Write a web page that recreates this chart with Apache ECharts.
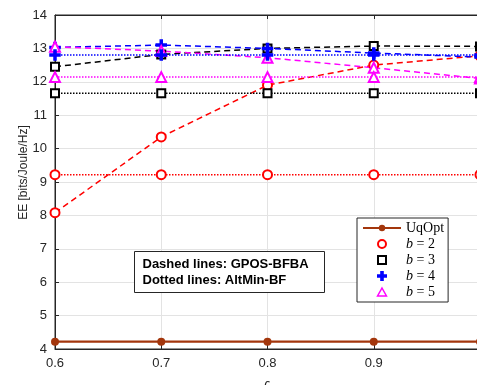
<!DOCTYPE html>
<html>
<head>
<meta charset="utf-8">
<script src="https://cdn.jsdelivr.net/npm/echarts@6/dist/echarts.min.js"></script>
<style>
  html, body { margin: 0; padding: 0; background: #fff; }
  #chart { width: 477px; height: 385px; }
</style>
</head>
<body>
<div id="chart"></div>
<script>
// x values (varsigma)
const xVals = [0.6, 0.7, 0.8, 0.9, 1.0];

// benchmark
const uqOpt = [4.22, 4.22, 4.22, 4.22, 4.22];

// dashed lines: GPOS-BFBA
const gposB2 = [8.08, 10.35, 11.9, 12.5, 12.78];
const gposB3 = [12.45, 12.82, 13.0, 13.07, 13.06];
const gposB4 = [13.03, 13.1, 13.0, 12.86, 12.74];
const gposB5 = [13.05, 12.92, 12.72, 12.42, 12.1];

// dotted lines: AltMin-BF
const altB2 = [9.22, 9.22, 9.22, 9.22, 9.22];
const altB3 = [11.66, 11.66, 11.66, 11.66, 11.66];
const altB4 = [12.8, 12.8, 12.8, 12.8, 12.8];
const altB5 = [12.14, 12.14, 12.14, 12.14, 12.14];

const legendNames = ['UqOpt', 'b = 2', 'b = 3', 'b = 4', 'b = 5'];

const plusPath = 'path://M4,0H6V4H10V6H6V10H4V6H0V4H4Z';
const squarePath = 'path://M0,0H10V10H0Z';
const trianglePath = 'path://M5,0L10,9H0Z';
const axisColor = '#262626';

function pairs(ys) {
  return xVals.map((x, i) => [x, ys[i]]);
}

function bSeries(name, ys, color, symbol, size, dash) {
  return {
    name: name,
    type: 'line',
    data: pairs(ys),
    symbol: symbol,
    symbolSize: size,
    showSymbol: true,
    lineStyle: { color: color, width: 1.5, type: dash },
    itemStyle: { color: color, borderColor: color, borderWidth: 1.5 },
    emphasis: { disabled: true }
  };
}

const chart = echarts.init(document.getElementById('chart'));

const option = {
  animation: false,
  grid: {
    left: 55, right: -3, top: 15, bottom: 36,
    outerBoundsMode: 'none', containLabel: false,
    show: true, borderColor: axisColor, borderWidth: 1
  },
  xAxis: [{
    type: 'value',
    min: 0.6, max: 1.0, interval: 0.1,
    name: 'ς',
    nameLocation: 'middle',
    nameGap: 29,
    nameMoveOverlap: false,
    nameTextStyle: { color: axisColor, fontSize: 13, fontFamily: 'Liberation Sans' },
    axisLine: { show: true, lineStyle: { color: axisColor } },
    axisTick: { inside: true, length: 4, lineStyle: { color: axisColor } },
    axisLabel: { color: axisColor, fontSize: 13, fontFamily: 'Liberation Sans', margin: 8,
      formatter: v => (Math.abs(v - 1) < 1e-9 ? '1' : v.toFixed(1)) },
    splitLine: { show: true, lineStyle: { color: '#e3e3e3' } }
  }, {
    type: 'value', position: 'top',
    min: 0.6, max: 1.0, interval: 0.1,
    axisLine: { show: true, lineStyle: { color: axisColor } },
    axisTick: { inside: true, length: 4, lineStyle: { color: axisColor } },
    axisLabel: { show: false },
    splitLine: { show: false }
  }],
  yAxis: {
    type: 'value',
    min: 4, max: 14, interval: 1,
    name: 'EE [bits/Joule/Hz]',
    nameLocation: 'middle',
    nameGap: 25,
    nameMoveOverlap: false,
    nameTextStyle: { color: axisColor, fontSize: 12, fontFamily: 'Liberation Sans', padding: [0, 0, 0, 19] },
    axisLine: { show: true, lineStyle: { color: axisColor } },
    axisTick: { inside: true, length: 4, lineStyle: { color: axisColor } },
    axisLabel: { color: axisColor, fontSize: 13, fontFamily: 'Liberation Sans', margin: 8 },
    splitLine: { show: true, lineStyle: { color: '#e3e3e3' } }
  },
  legend: {
    orient: 'vertical',
    left: 357, top: 218,
    padding: [3, 4, 3, 5],
    itemWidth: 38, itemHeight: 8, itemGap: 2,
    backgroundColor: '#fff',
    borderColor: axisColor, borderWidth: 1,
    selectedMode: false,
    data: [
      { name: legendNames[0] },
      { name: legendNames[1], icon: 'emptyCircle' },
      { name: legendNames[2], icon: squarePath,
        itemStyle: { color: '#fff', borderColor: '#000000', borderWidth: 2 } },
      { name: legendNames[3], icon: plusPath },
      { name: legendNames[4], icon: trianglePath,
        itemStyle: { color: '#fff', borderColor: '#ff00ff', borderWidth: 1.5 } }
    ],
    formatter: n => (n === 'UqOpt' ? n : '{i|b} = ' + n.split('= ')[1]),
    textStyle: {
      color: '#000', fontSize: 14, lineHeight: 14, fontFamily: 'Liberation Serif',
      rich: { i: { fontStyle: 'italic', fontSize: 14, lineHeight: 14, fontFamily: 'Liberation Serif' } }
    }
  },
  graphic: [{
    type: 'group', left: 134, top: 251, z: 100,
    children: [{
      type: 'rect', z: 100, shape: { x: 0, y: 0, width: 190, height: 41 },
      style: { fill: '#fff', stroke: axisColor, lineWidth: 1 }
    }, {
      type: 'text', z: 101, x: 8, y: 5,
      style: { text: 'Dashed lines: GPOS-BFBA\nDotted lines: AltMin-BF', fill: '#000',
        font: 'bold 13px "Liberation Sans"', lineHeight: 16 }
    }]
  }],
  series: [
    {
      name: 'UqOpt', type: 'line', data: pairs(uqOpt),
      symbol: 'circle', symbolSize: 8, showSymbol: true,
      lineStyle: { color: '#a3360c', width: 2.2 },
      itemStyle: { color: '#a3360c' },
      emphasis: { disabled: true }
    },
    bSeries('b = 2', gposB2, '#ff0000', 'emptyCircle', 9, [6, 4]),
    bSeries('b = 3', gposB3, '#000000', 'emptyRect', 8, [6, 4]),
    bSeries('b = 4', gposB4, '#0000ff', plusPath, 10, [6, 4]),
    bSeries('b = 5', gposB5, '#ff00ff', 'emptyTriangle', 10, [6, 4]),
    bSeries('b = 2', altB2, '#ff0000', 'emptyCircle', 9, [1.5, 1.5]),
    bSeries('b = 3', altB3, '#000000', 'emptyRect', 8, [1.5, 1.5]),
    bSeries('b = 4', altB4, '#0000ff', plusPath, 10, [1.5, 1.5]),
    bSeries('b = 5', altB5, '#ff00ff', 'emptyTriangle', 10, [1.5, 1.5])
  ]
};

chart.setOption(option);
window.addEventListener('resize', () => chart.resize());
</script>
</body>
</html>
